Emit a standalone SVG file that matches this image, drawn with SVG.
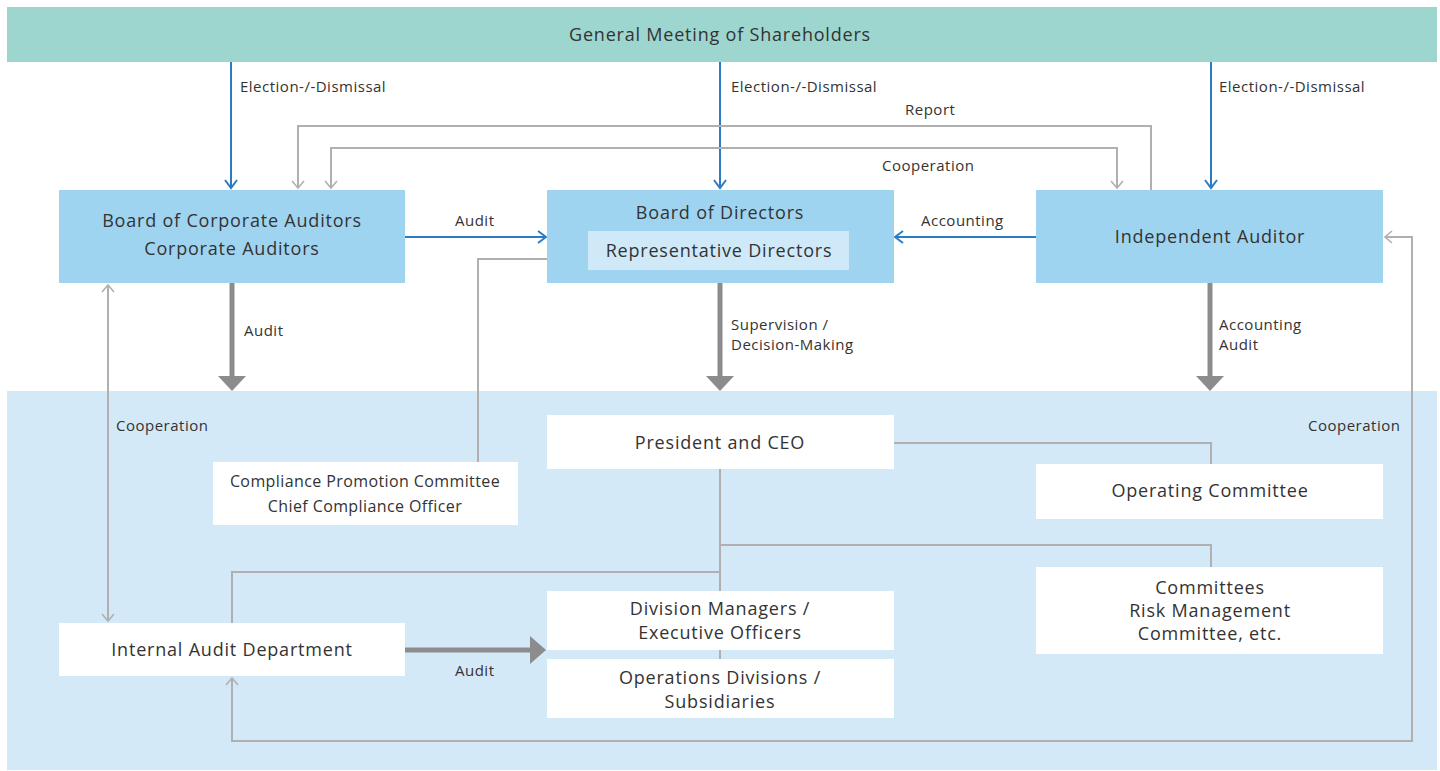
<svg xmlns="http://www.w3.org/2000/svg" width="1440" height="771" viewBox="0 0 1440 771">
<style>
text{font-family:"Open Sans","Noto Sans","Liberation Sans",sans-serif;fill:#333;}
.n{font-size:18px;text-anchor:middle;letter-spacing:0.8px;}
.s{font-size:16px;text-anchor:middle;letter-spacing:0.4px;}
.l{font-size:15px;letter-spacing:0.5px;}
.blue{fill:#9fd4f1;}
.white{fill:#ffffff;}
.cb{stroke:#2a7cc4;stroke-width:2;fill:none;}
.cg{stroke:#b0b0b0;stroke-width:2;fill:none;}
.ct{stroke:#8c8c8c;stroke-width:5;fill:none;}
.tri{fill:#8c8c8c;}
</style>
<defs>
<marker id="ab" markerWidth="14" markerHeight="14" refX="12" refY="7" orient="auto-start-reverse" markerUnits="userSpaceOnUse">
<path d="M4,1 L12,7 L4,13" fill="none" stroke="#2a7cc4" stroke-width="2"/>
</marker>
<marker id="ag" markerWidth="14" markerHeight="14" refX="12" refY="7" orient="auto-start-reverse" markerUnits="userSpaceOnUse">
<path d="M5,1 L12,7 L5,13" fill="none" stroke="#b0b0b0" stroke-width="1.6"/>
</marker>
</defs>
<rect x="0" y="0" width="1440" height="771" fill="#ffffff"/>
<rect x="7" y="391" width="1430" height="379" fill="#d4e9f7"/>

<g id="shareholders">
<rect x="7" y="7" width="1430" height="55" fill="#9dd6cf"/>
<text class="n" x="720" y="41">General Meeting of Shareholders</text>
</g>

<g id="connectors">
<line class="cb" x1="231" y1="62" x2="231" y2="188" marker-end="url(#ab)"/>
<line class="cb" x1="720" y1="62" x2="720" y2="188" marker-end="url(#ab)"/>
<line class="cb" x1="1211" y1="62" x2="1211" y2="188" marker-end="url(#ab)"/>
<polyline class="cg" points="1151,190 1151,126 298,126 298,188" marker-end="url(#ag)"/>
<polyline class="cg" points="331,188 331,148 1117,148 1117,188" marker-start="url(#ag)" marker-end="url(#ag)"/>
<line class="cb" x1="405" y1="237" x2="546" y2="237" marker-end="url(#ab)"/>
<line class="cb" x1="1036" y1="237" x2="895" y2="237" marker-end="url(#ab)"/>
<polyline class="cg" points="547,259 478,259 478,462"/>
<line class="ct" x1="232" y1="283" x2="232" y2="378"/>
<polygon class="tri" points="218,376 246,376 232,391"/>
<line class="ct" x1="720" y1="283" x2="720" y2="378"/>
<polygon class="tri" points="706,376 734,376 720,391"/>
<line class="ct" x1="1210" y1="283" x2="1210" y2="378"/>
<polygon class="tri" points="1196,376 1224,376 1210,391"/>
<line class="cg" x1="108" y1="285" x2="108" y2="621" marker-start="url(#ag)" marker-end="url(#ag)"/>
<polyline class="cg" points="232,678 232,741 1412,741 1412,237 1385,237" marker-start="url(#ag)" marker-end="url(#ag)"/>
<polyline class="cg" points="894,443 1211,443 1211,464"/>
<line class="cg" x1="720" y1="469" x2="720" y2="659"/>
<polyline class="cg" points="720,545 1211,545 1211,567"/>
<polyline class="cg" points="720,572 232,572 232,623"/>
<line class="ct" x1="405" y1="650" x2="532" y2="650"/>
<polygon class="tri" points="530,636 530,664 546,650"/>
</g>

<g id="connector-labels">
<text class="l" x="240" y="92">Election-/-Dismissal</text>
<text class="l" x="731" y="92">Election-/-Dismissal</text>
<text class="l" x="1219" y="92">Election-/-Dismissal</text>
<text class="l" x="905" y="115">Report</text>
<text class="l" x="882" y="171">Cooperation</text>
<text class="l" x="455" y="226">Audit</text>
<text class="l" x="921" y="226">Accounting</text>
<text class="l" x="244" y="336">Audit</text>
<text class="l" x="731" y="330">Supervision /</text>
<text class="l" x="731" y="350">Decision-Making</text>
<text class="l" x="1219" y="330">Accounting</text>
<text class="l" x="1219" y="350">Audit</text>
<text class="l" x="116" y="431">Cooperation</text>
<text class="l" x="1308" y="431">Cooperation</text>
<text class="l" x="455" y="676">Audit</text>
</g>

<g id="board-auditors">
<rect class="blue" x="59" y="190" width="346" height="93"/>
<text class="n" x="232" y="227">Board of Corporate Auditors</text>
<text class="n" x="232" y="255">Corporate Auditors</text>
</g>
<g id="board-directors">
<rect class="blue" x="547" y="190" width="347" height="93"/>
<text class="n" x="720" y="219">Board of Directors</text>
<rect x="588" y="231" width="261" height="39" fill="#cfe9f8"/>
<text class="n" x="719" y="257">Representative Directors</text>
</g>
<g id="independent-auditor">
<rect class="blue" x="1036" y="190" width="347" height="93"/>
<text class="n" x="1210" y="243">Independent Auditor</text>
</g>
<g id="president">
<rect class="white" x="547" y="415" width="347" height="54"/>
<text class="n" x="720" y="449">President and CEO</text>
</g>
<g id="compliance">
<rect class="white" x="213" y="462" width="305" height="63"/>
<text class="s" x="365" y="487">Compliance Promotion Committee</text>
<text class="s" x="365" y="512">Chief Compliance Officer</text>
</g>
<g id="operating-committee">
<rect class="white" x="1036" y="464" width="347" height="55"/>
<text class="n" x="1210" y="497">Operating Committee</text>
</g>
<g id="committees">
<rect class="white" x="1036" y="567" width="347" height="87"/>
<text class="n" x="1210" y="594">Committees</text>
<text class="n" x="1210" y="617">Risk Management</text>
<text class="n" x="1210" y="640">Committee, etc.</text>
</g>
<g id="division-managers">
<rect class="white" x="547" y="591" width="347" height="59"/>
<text class="n" x="720" y="615">Division Managers /</text>
<text class="n" x="720" y="639">Executive Officers</text>
</g>
<g id="operations-divisions">
<rect class="white" x="547" y="659" width="347" height="59"/>
<text class="n" x="720" y="684">Operations Divisions /</text>
<text class="n" x="720" y="708">Subsidiaries</text>
</g>
<g id="internal-audit">
<rect class="white" x="59" y="623" width="346" height="53"/>
<text class="n" x="232" y="656">Internal Audit Department</text>
</g>
</svg>
